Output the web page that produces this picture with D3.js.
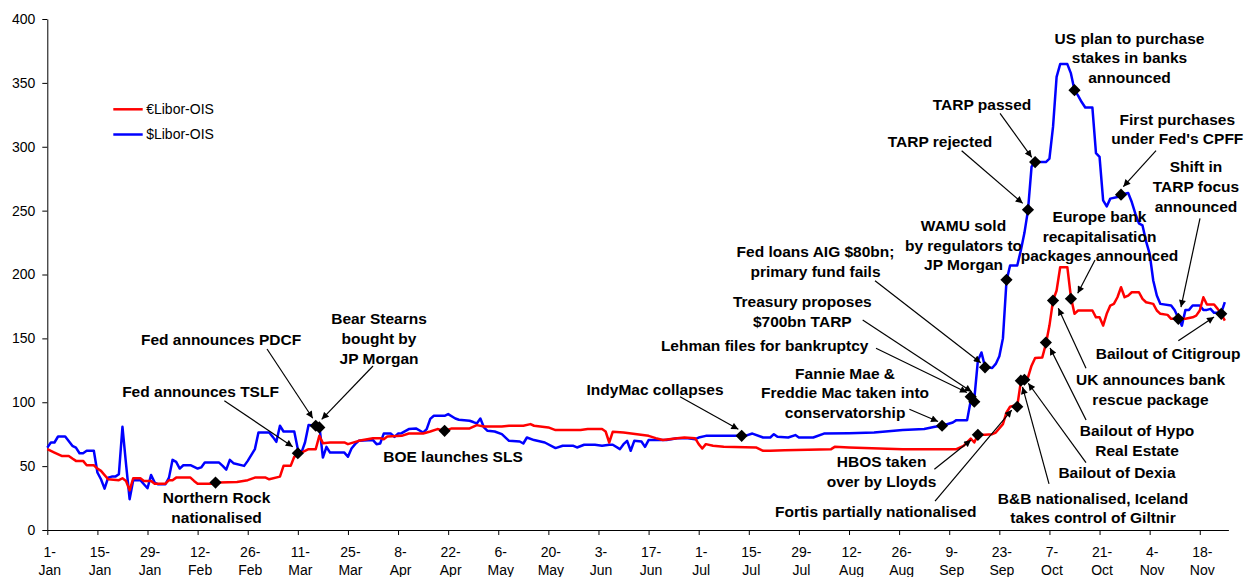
<!DOCTYPE html>
<html>
<head>
<meta charset="utf-8">
<script src="https://cdn.jsdelivr.net/npm/d3@7"></script>
<style>
  body { margin: 0; background: #fff; }
  svg { display: block; font-family: Arial, "Liberation Sans", sans-serif; }
</style>
</head>
<body>
<svg id="chart" width="1250" height="577"></svg>
<script>
// ---- Data (2008, basis points) ----
const usdDates = ["01-01","01-02","01-03","01-04","01-06","01-08","01-09","01-10","01-11","01-12","01-14","01-15","01-16","01-17","01-18","01-19","01-20","01-21","01-22","01-23","01-24","01-25","01-27","01-28","01-29","01-30","01-31","02-01","02-03","02-04","02-05","02-06","02-07","02-08","02-10","02-12","02-13","02-14","02-18","02-19","02-20","02-21","02-22","02-25","02-26","02-28","02-29","03-03","03-04","03-05","03-06","03-07","03-10","03-11","03-12","03-13","03-14","03-16","03-17","03-18","03-19","03-20","03-24","03-25","03-26","03-27","03-28","04-01","04-02","04-03","04-04","04-06","04-07","04-08","04-09","04-11","04-13","04-15","04-16","04-17","04-18","04-21","04-22","04-24","04-25","04-28","04-29","04-30","05-01","05-02","05-03","05-05","05-07","05-09","05-12","05-13","05-14","05-16","05-19","05-22","05-24","05-27","05-28","05-30","06-02","06-04","06-06","06-07","06-09","06-10","06-11","06-12","06-13","06-15","06-16","06-17","06-18","06-22","06-25","06-28","06-30","07-01","07-03","07-14","07-16","07-19","07-21","07-22","07-23","07-26","07-28","07-29","08-02","08-05","08-12","08-19","08-27","09-02","09-05","09-07","09-10","09-11","09-14","09-15","09-16","09-17","09-18","09-19","09-21","09-22","09-23","09-24","09-25","09-26","09-28","09-29","09-30","10-01","10-02","10-03","10-04","10-06","10-07","10-08","10-09","10-10","10-12","10-13","10-14","10-15","10-16","10-17","10-19","10-20","10-21","10-22","10-23","10-24","10-26","10-27","10-29","10-30","10-31","11-01","11-02","11-03","11-04","11-05","11-06","11-07","11-10","11-11","11-12","11-13","11-14","11-15","11-16","11-18","11-19","11-20","11-21","11-22","11-24","11-25"];
const usdValues = [64.5,68.5,68.5,73.2,73.2,65.9,64.5,60.1,60.1,62,62,45,39.7,32.4,41,41.8,41.8,43.7,80.8,51.5,24.1,39,39,35.8,32.7,43.1,37.1,35.8,35.8,41,54.9,53.3,48.1,50.7,50.7,48.1,49,52.8,52.8,50.2,47.3,54.9,52.3,50.2,54.1,63.3,76.3,76.3,72.9,69,81.6,77.1,77.1,63.3,60.6,68.5,82.1,81.6,82,56.7,65.1,60.6,60.6,57.3,63.8,67.2,69.8,70.4,67.2,67.7,75.5,75.5,72.9,75.5,75.8,79,79.5,76.3,79,87,89.4,89.4,90.7,87.3,86.3,85.5,84.5,83.4,87.3,80.3,77.6,77.1,75,69.8,69.3,67.7,72.4,70.4,68.5,64.1,65.9,65.9,64.6,66.7,66.7,65.9,66.7,66.7,63.3,67.2,69.8,62,69.8,69.3,65.1,70.4,70.4,70.4,71.9,71.9,71.1,72.4,73.7,73.7,75.5,72.4,72.4,75,72.9,72.4,74.3,72.4,72.4,75.5,75.8,76.3,78.2,79,80.8,81.6,84.2,86,86,101.2,102.5,132.5,139,127.8,126.8,130,136,150,195,207,207,218.8,232.4,250.2,284.2,289.4,288,288,290.7,315.5,354.7,364.7,364.7,357.4,344.3,340,335,330.7,330.7,295,292,258,253.3,259.4,260.6,262.5,263.8,256.7,247.6,240,238.4,226,216.2,195.3,183.5,177,175.7,172,166,160,172.3,172.3,175.7,175.7,172.3,172.3,173.1,170,170,178.3];

const eurDates = ["01-01","01-03","01-05","01-07","01-08","01-09","01-11","01-12","01-14","01-15","01-16","01-18","01-21","01-22","01-23","01-24","01-25","01-27","01-28","01-30","01-31","02-03","02-04","02-05","02-06","02-10","02-11","02-12","02-17","02-18","02-23","02-26","02-28","03-02","03-03","03-06","03-07","03-09","03-10","03-12","03-14","03-16","03-17","03-18","03-20","03-24","03-25","03-28","04-01","04-03","04-04","04-05","04-09","04-11","04-15","04-17","04-19","04-21","04-23","04-28","04-30","05-02","05-07","05-09","05-13","05-15","05-16","05-20","05-22","05-29","05-31","06-04","06-05","06-06","06-07","06-10","06-17","06-19","06-21","06-25","06-27","06-30","07-01","07-02","07-03","07-05","07-08","07-17","07-19","07-21","07-25","08-07","08-08","08-12","08-27","09-11","09-13","09-15","09-16","09-17","09-19","09-21","09-22","09-24","09-25","09-26","09-27","09-28","09-29","09-30","10-01","10-02","10-03","10-05","10-06","10-07","10-08","10-09","10-10","10-12","10-13","10-14","10-15","10-19","10-20","10-21","10-22","10-23","10-24","10-25","10-26","10-27","10-28","10-29","10-30","11-01","11-02","11-03","11-05","11-06","11-07","11-09","11-10","11-14","11-16","11-17","11-18","11-19","11-20","11-22","11-23","11-24","11-25"];
const eurValues = [63.3,60.6,58,58,56,54.1,54.1,50.7,50.7,48.1,46.3,39.7,39,40.5,38.4,31,40.5,40.5,38.4,38.4,36.3,36.3,39,39,41,41,38.4,36.3,36.3,37.1,37.6,39,41,41,39.7,41.8,50.2,50.2,57.3,60.6,63.3,63.3,73.7,68,68.5,68.5,67.2,69.8,71.9,71.9,71,73.2,73.7,75.5,75.5,77.1,79,77.6,79.5,79.5,82.1,81,81,81.6,81.6,82.9,81.6,80.3,78.2,78.2,79,79,77.1,68.5,77,76.3,73.7,71.9,70.4,71.9,72.4,71.9,67.2,63.8,67.2,65.9,65.1,64.6,62,62,62.5,63.3,65.1,64.6,63.3,63.3,65.9,71.6,68.5,74.5,74.5,75,76.3,82.9,92,96.5,97.3,97,116,118,119.5,128.6,134.7,135.1,145.6,160,179.6,187.5,205.7,205.7,182.2,169.2,171.8,171.8,166.5,166.5,160,169.2,175.7,177,182.2,190,182.2,183.5,186.1,186.1,180.9,178.3,177,171.8,169.2,168.4,165.3,165.3,166.5,167.8,171.8,182.2,176.5,176.5,173.1,169.2,163.9];

const eventLabels = [
  ["Northern Rock", "nationalised"],
  ["Fed announces TSLF"],
  ["Fed announces PDCF"],
  ["Bear Stearns", "bought by", "JP Morgan"],
  ["BOE launches SLS"],
  ["IndyMac collapses"],
  ["Fannie Mae &", "Freddie Mac taken into", "conservatorship"],
  ["Lehman files for bankruptcy"],
  ["Treasury proposes", "$700bn TARP"],
  ["Fed loans AIG $80bn;", "primary fund fails"],
  ["HBOS taken", "over by Lloyds"],
  ["WAMU sold", "by regulators to", "JP Morgan"],
  ["Fortis partially nationalised"],
  ["B&B nationalised, Iceland", "takes control of Giltnir"],
  ["Bailout of Dexia"],
  ["TARP rejected"],
  ["TARP passed"],
  ["Bailout of Hypo", "Real Estate"],
  ["UK announces bank", "rescue package"],
  ["Europe bank", "recapitalisation", "packages announced"],
  ["US plan to purchase", "stakes in banks", "announced"],
  ["First purchases", "under Fed's CPFF"],
  ["Shift in", "TARP focus", "announced"],
  ["Bailout of Citigroup"]
];
const eventDates = ["02-17","03-11","03-16","03-17","04-21","07-13","09-07","09-15","09-16","09-19","09-17","09-25","09-28","09-29","09-30","10-01","10-03","10-06","10-08","10-13","10-14","10-27","11-12","11-24"];
const eventValues = [37.1,60.1,81.6,80.3,77.6,73.7,81.6,104.3,100.4,127.3,74.5,195.8,96.5,116.9,117.6,250.7,288,146.7,179.6,181,344.3,262.5,165.3,169.2];

const tickDates = ["01-01","01-15","01-29","02-12","02-26","03-11","03-25","04-08","04-22","05-06","05-20","06-03","06-17","07-01","07-15","07-29","08-12","08-26","09-09","09-23","10-07","10-21","11-04","11-18"];
const yTicks = [0, 50, 100, 150, 200, 250, 300, 350, 400];
const seriesNames = ["\u20acLibor-OIS", "$Libor-OIS"];

// ---- Annotation layout: label offset (first line centre) and arrow [x1,y1,x2,y2], relative to the marker ----
const annotationLayout = [
  { dx: 1,      dy: 15.4 },
  { dx: -97.3,  dy: -61.7,  arrow: [-73.5, -52.5, -5.1, -6.5] },
  { dx: -94.7,  dy: -85.8,  arrow: [-48.7, -76.8, -3, -7.5] },
  { dx: 59.7,   dy: -108.4, arrow: [53.7, -61.4, 2.4, -8.1] },
  { dx: 8.4,    dy: 26.1 },
  { dx: -86.6,  dy: -45.8,  arrow: [-61.6, -39.1, -3.3, -6.5] },
  { dx: -97,    dy: -52.5,  arrow: [-32.7, -16.5, -4, -4.3] },
  { dx: -206,   dy: -51.1,  arrow: [-94.7, -48.5, -3.7, -4.3] },
  { dx: -172,   dy: -100,   arrow: [-111.6, -81.7, -2.6, -10] },
  { dx: -169.5, dy: -115.7, arrow: [-110, -86.7, -4.3, -4.7] },
  { dx: -96.3,  dy: 26.9,   arrow: [-43.5, 34.5, -6.8, 5.2] },
  { dx: -43,    dy: -54.2 },
  { dx: -141.5, dy: 105,    arrow: [-82.2, 94.3, -5.5, 3.3] },
  { dx: 72.2,   dy: 117.6,  arrow: [28.2, 103.3, 1.7, 6.3] },
  { dx: 92.6,   dy: 92.9,   arrow: [61.6, 82.9, 3.9, 3.5] },
  { dx: -88,    dy: -68,    arrow: [-66.3, -59, -5.3, -6.4] },
  { dx: -53.1,  dy: -57.8,  arrow: [-35.1, -48.8, -3.4, -4.8] },
  { dx: 91.2,   dy: 88.4,   arrow: [40.2, 77.4, 4.2, 5.4] },
  { dx: 97.5,   dy: 79.4,   arrow: [33, 67.7, 5.3, 7.7] },
  { dx: 28.6,   dy: -82.1,  arrow: [24.1, -38.8, 6.8, -5.5] },
  { dx: 55,     dy: -51.9 },
  { dx: 56.3,   dy: -75.4,  arrow: [35, -44, 2.3, -8] },
  { dx: 17.7,   dy: -152.1, arrow: [21.7, -100.5, 2.7, -11.8] },
  { dx: -53.2,  dy: 39.5,   arrow: [-42.9, 26.9, -7.2, 3.2] }
];

// ---- Scales ----
const parseDay = s => d3.utcParse("%Y-%m-%d")("2008-" + s);
const svg = d3.select("#chart");
const x = d3.scaleUtc().domain([parseDay("01-01"), parseDay("11-26")]).range([47.3, 1228.4]);
const y = d3.scaleLinear().domain([0, 400]).range([530, 19]);

const lineGen = d3.line().x(d => x(d.date)).y(d => y(d.value));
const toSeries = (dates, values) => dates.map((s, i) => ({ date: parseDay(s), value: values[i] }));
const eur = toSeries(eurDates, eurValues);
const usd = toSeries(usdDates, usdValues);

// ---- Axes ----
const yAxis = svg.append("g")
  .attr("transform", `translate(${x.range()[0]},0)`)
  .call(d3.axisLeft(y).tickValues(yTicks).tickSize(5).tickSizeOuter(0).tickPadding(7));
yAxis.selectAll("text").attr("font-size", 14).attr("fill", "#000").attr("font-family", "Arial, 'Liberation Sans', sans-serif");
yAxis.selectAll("line,path").attr("stroke", "#000");

const xAxis = svg.append("g")
  .attr("transform", `translate(0,${y(0)})`)
  .call(d3.axisBottom(x).tickValues(tickDates.map(parseDay)).tickSize(5).tickSizeOuter(0).tickFormat(""));
xAxis.selectAll("line,path").attr("stroke", "#000");
const fmtDay = d3.utcFormat("%-d-"), fmtMon = d3.utcFormat("%b");
xAxis.selectAll(".tick").each(function(d) {
  const t = d3.select(this).append("text")
    .attr("fill", "#000").attr("font-size", 14).attr("text-anchor", "middle")
    .attr("font-family", "Arial, 'Liberation Sans', sans-serif");
  t.append("tspan").attr("x", 2).attr("y", 21.7).attr("dy", "0.35em").text(fmtDay(d));
  t.append("tspan").attr("x", 2).attr("y", 40).attr("dy", "0.35em").text(fmtMon(d));
});

// ---- Series lines ----
svg.append("path").datum(usd).attr("d", lineGen)
  .attr("fill", "none").attr("stroke", "#0000ff").attr("stroke-width", 2.5).attr("stroke-linejoin", "round");
svg.append("path").datum(eur).attr("d", lineGen)
  .attr("fill", "none").attr("stroke", "#ff0000").attr("stroke-width", 2.5).attr("stroke-linejoin", "round");

// ---- Legend ----
const legend = svg.append("g");
[["#ff0000", 109.3], ["#0000ff", 134.5]].forEach(([c, ly], i) => {
  legend.append("line").attr("x1", 113.3).attr("x2", 142.7).attr("y1", ly).attr("y2", ly)
    .attr("stroke", c).attr("stroke-width", 2.5);
  legend.append("text").attr("x", 146.2).attr("y", ly).attr("dy", "0.35em")
    .attr("font-size", 14).attr("fill", "#000").text(seriesNames[i]);
});

// ---- Arrowhead ----
svg.append("defs").append("marker")
  .attr("id", "head").attr("viewBox", "0 0 10 10").attr("refX", 10).attr("refY", 5)
  .attr("markerUnits", "userSpaceOnUse").attr("markerWidth", 8).attr("markerHeight", 7)
  .attr("orient", "auto")
  .append("path").attr("d", "M0,0L10,5L0,10Z").attr("fill", "#000");

// ---- Event markers, arrows and labels ----
const events = eventDates.map((s, i) => ({
  date: parseDay(s), value: eventValues[i], lines: eventLabels[i], layout: annotationLayout[i]
}));

const ann = svg.append("g");
events.forEach(e => {
  const mx = x(e.date), my = y(e.value), L = e.layout;
  if (L.arrow) {
    ann.append("line")
      .attr("x1", mx + L.arrow[0]).attr("y1", my + L.arrow[1])
      .attr("x2", mx + L.arrow[2]).attr("y2", my + L.arrow[3])
      .attr("stroke", "#000").attr("stroke-width", 1.2).attr("marker-end", "url(#head)");
  }
  const t = ann.append("text").attr("text-anchor", "middle").attr("font-size", 15.5)
    .attr("font-weight", "bold").attr("fill", "#000");
  e.lines.forEach((ln, k) => {
    t.append("tspan").attr("x", mx + L.dx).attr("y", my + L.dy + k * 19.7).attr("dy", "0.35em").text(ln);
  });
});

svg.append("g").selectAll("path").data(events).join("path")
  .attr("d", d3.symbol(d3.symbolSquare, 74)())
  .attr("transform", d => `translate(${x(d.date)},${y(d.value)}) rotate(45)`)
  .attr("fill", "#000");
</script>
</body>
</html>
